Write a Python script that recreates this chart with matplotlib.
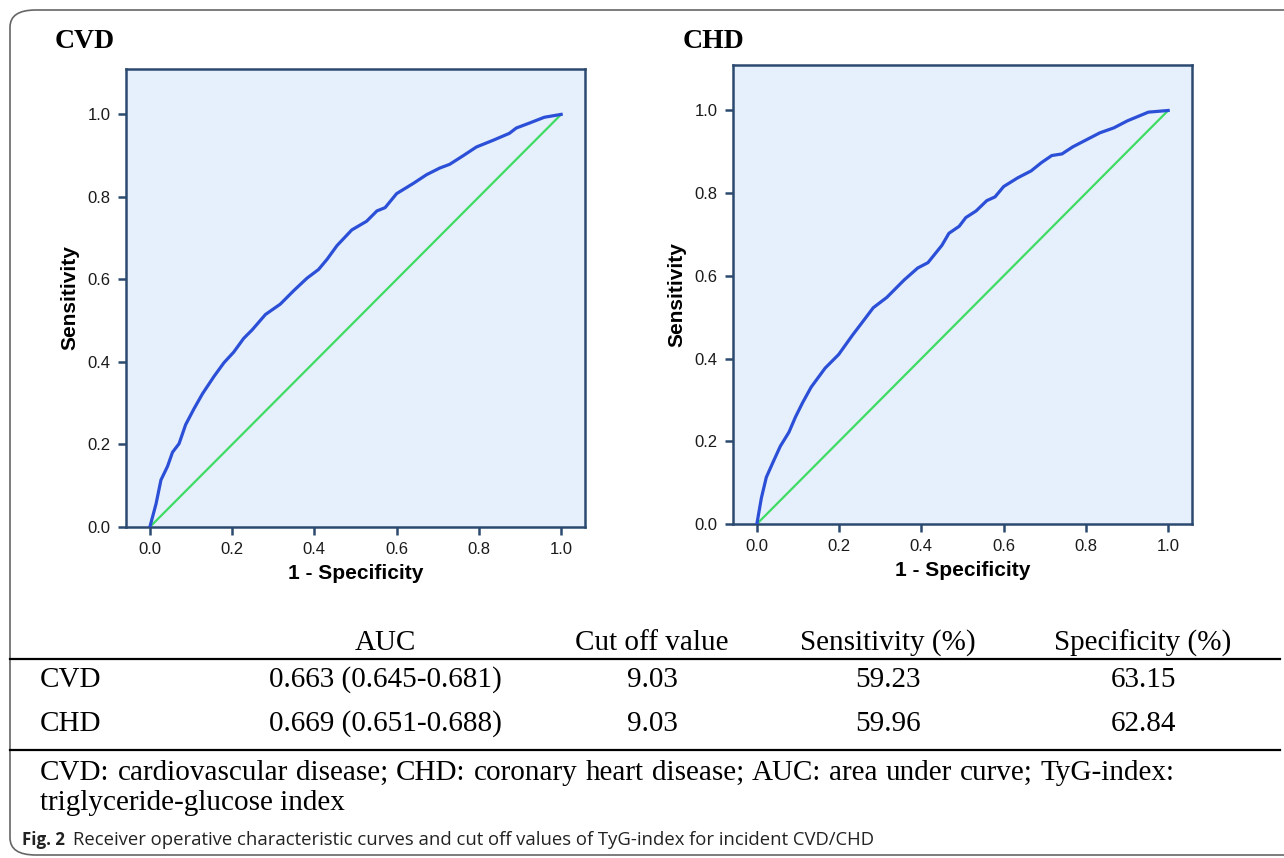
import matplotlib
matplotlib.use("Agg")
import matplotlib.pyplot as plt
from matplotlib.patches import FancyBboxPatch
from matplotlib.lines import Line2D

# ROC points
cvd_fpr = [0.0, 0.015, 0.027, 0.043, 0.055, 0.071, 0.087, 0.107, 0.128, 0.156, 0.180,
           0.204, 0.228, 0.249, 0.281, 0.317, 0.350, 0.382, 0.410, 0.431, 0.455, 0.491,
           0.527, 0.552, 0.572, 0.600, 0.641, 0.673, 0.705, 0.729, 0.762, 0.794, 0.834,
           0.874, 0.891, 0.923, 0.959, 1.0]
cvd_tpr = [0.0, 0.056, 0.114, 0.147, 0.181, 0.202, 0.248, 0.286, 0.323, 0.365, 0.398,
           0.424, 0.457, 0.478, 0.515, 0.540, 0.573, 0.603, 0.624, 0.649, 0.682, 0.720,
           0.741, 0.766, 0.774, 0.808, 0.833, 0.854, 0.870, 0.879, 0.900, 0.921, 0.937,
           0.954, 0.967, 0.979, 0.993, 1.0]

chd_fpr = [0.0, 0.011, 0.023, 0.040, 0.057, 0.078, 0.094, 0.111, 0.132, 0.166, 0.199,
           0.232, 0.258, 0.283, 0.316, 0.358, 0.391, 0.416, 0.450, 0.467, 0.492, 0.508,
           0.533, 0.559, 0.579, 0.600, 0.634, 0.667, 0.692, 0.717, 0.742, 0.768, 0.801,
           0.834, 0.868, 0.901, 0.952, 1.0]
chd_tpr = [0.0, 0.063, 0.113, 0.151, 0.188, 0.222, 0.259, 0.293, 0.331, 0.377, 0.410,
           0.456, 0.490, 0.523, 0.548, 0.590, 0.619, 0.632, 0.674, 0.703, 0.720, 0.741,
           0.757, 0.782, 0.791, 0.816, 0.837, 0.854, 0.874, 0.891, 0.895, 0.912, 0.929,
           0.946, 0.958, 0.975, 0.996, 1.0]

ticks = [0.0, 0.2, 0.4, 0.6, 0.8, 1.0]

col_headers = ["AUC", "Cut off value", "Sensitivity (%)", "Specificity (%)"]
row_names = ["CVD", "CHD"]
auc_vals = ["0.663 (0.645-0.681)", "0.669 (0.651-0.688)"]
cutoff_vals = ["9.03", "9.03"]
sens_vals = ["59.23", "59.96"]
spec_vals = ["63.15", "62.84"]

footnote = ["CVD: cardiovascular disease; CHD: coronary heart disease; AUC: area under curve; TyG-index:",
            "triglyceride-glucose index"]
caption_bold = "Fig. 2"
caption = "Receiver operative characteristic curves and cut off values of TyG-index for incident CVD/CHD"

W, H = 1284, 858


def px(x):
    return x / W


def py(y):
    return 1 - y / H


fig = plt.figure(figsize=(12.84, 8.58), dpi=100)

# rounded frame of the figure box
frame = FancyBboxPatch((px(10), py(855)), px(1320), py(10) - py(855),
                       boxstyle="round,pad=0,rounding_size=0.02",
                       transform=fig.transFigure, fill=False,
                       edgecolor="#666666", linewidth=1.2)
fig.patches.append(frame)

spine_col = "#2c4a70"


def roc_panel(rect, fpr, tpr, title, title_xy):
    ax = fig.add_axes(rect)
    ax.set_facecolor("#e6effc")
    ax.plot([0, 1], [0, 1], color="#3edc62", lw=1.6, zorder=2)
    ax.plot(fpr, tpr, color="#2b4fd6", lw=2.3, zorder=3)
    ax.set_xlim(-0.058, 1.058)
    ax.set_ylim(0, 1.11)
    ax.set_xticks(ticks)
    ax.set_yticks(ticks)
    ax.set_xticklabels([f"{t:.1f}" for t in ticks])
    ax.set_yticklabels([f"{t:.1f}" for t in ticks])
    for s in ax.spines.values():
        s.set_color(spine_col)
        s.set_linewidth(1.8)
    ax.tick_params(direction="out", length=6, width=1.8, color=spine_col,
                   labelsize=12, labelcolor="#1a1a1a", pad=5)
    for lab in ax.get_xticklabels() + ax.get_yticklabels():
        lab.set_family("Liberation Sans")
    ax.set_xlabel("1 - Specificity", family="Liberation Sans", fontweight="bold",
                  fontsize=15, labelpad=5)
    ax.set_ylabel("Sensitivity", family="Liberation Sans", fontweight="bold",
                  fontsize=15, labelpad=6)
    fig.text(px(title_xy[0]), py(title_xy[1]), title, family="Liberation Serif",
             fontweight="bold", fontsize=20, va="center", ha="left")
    return ax


roc_panel([px(126), py(527), px(459), py(69) - py(527)], cvd_fpr, cvd_tpr, "CVD", (55, 42))
roc_panel([px(733), py(524), px(459), py(65) - py(524)], chd_fpr, chd_tpr, "CHD", (683, 42))

# table below the plots
serif = "Liberation Serif"
tsize = 21
col_x = [385, 652, 888, 1143]
for x, h in zip(col_x, col_headers):
    fig.text(px(x), py(643), h, family=serif, fontsize=tsize, ha="center", va="center")

rows = list(zip(row_names, auc_vals, cutoff_vals, sens_vals, spec_vals))
row_y = [680, 724]
for y, r in zip(row_y, rows):
    fig.text(px(40), py(y), r[0], family=serif, fontsize=tsize, ha="left", va="center")
    for x, v in zip(col_x, r[1:]):
        fig.text(px(x), py(y), v, family=serif, fontsize=tsize, ha="center", va="center")

for y in [659, 750]:
    fig.add_artist(Line2D([px(10), px(1280)], [py(y), py(y)], color="black", lw=1.6,
                          transform=fig.transFigure))

fig.canvas.draw()
rend = fig.canvas.get_renderer()

# first footnote line is spread out a little (justified text)
words = footnote[0].split(" ")
wtexts = [fig.text(0, py(773), w, family=serif, fontsize=tsize, ha="left", va="center")
          for w in words]
widths = [t.get_window_extent(rend).width for t in wtexts]
gap = (1175 - 40 - sum(widths)) / (len(words) - 1)
xpos = 40
for t, w in zip(wtexts, widths):
    t.set_x(px(xpos))
    xpos += w + gap
fig.text(px(40), py(803), footnote[1], family=serif, fontsize=tsize, ha="left", va="center")

# caption, sized to the width it takes in the figure
cb = fig.text(px(22), py(840), caption_bold, family="Open Sans", fontweight="bold",
              fontsize=12, ha="left", va="center", color="#222222")
cw = cb.get_window_extent(rend).width
cb.set_fontsize(12 * 43 / cw)
ct = fig.text(px(73), py(840), caption, family="Open Sans", fontsize=11,
              ha="left", va="center", color="#222222")
tw = ct.get_window_extent(rend).width
ct.set_fontsize(11 * (878 - 73) / tw)

fig.savefig("out.png", dpi=100)
